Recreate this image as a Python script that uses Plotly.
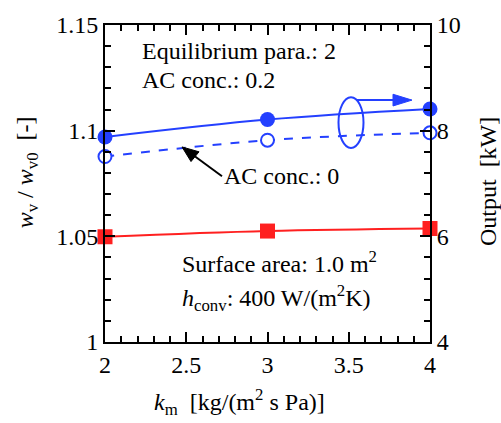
import plotly.graph_objects as go

# ---------------- data ----------------
k_m = [2, 3, 4]
wv_ratio = [1.0498, 1.0525, 1.0537]          # left axis, red squares
output_ac02 = [7.88, 8.21, 8.41]             # right axis, AC conc. 0.2 (filled)
output_ac0 = [7.51, 7.82, 7.96]              # right axis, AC conc. 0 (open, dashed)

x_tickvals = [2, 2.5, 3, 3.5, 4]
y_tickvals = [1, 1.05, 1.1, 1.15]
y2_tickvals = [4, 6, 8, 10]

# ---------------- layout helpers ----------------
W, H = 501, 423
L, R, T, B = 105, 71, 17, 81
PW = W - L - R
PH = H - T - B


def px(x):
    return (x - L) / PW


def py(y):
    return (H - B - y) / PH


FONT = "Liberation Serif"
BLUE = "#2440ff"
RED = "#ff2020"

fig = go.Figure()

fig.add_trace(go.Scatter(
    x=k_m, y=wv_ratio, mode="lines+markers", yaxis="y",
    line=dict(color=RED, width=2, shape="spline"),
    marker=dict(symbol="square", size=15, color=RED),
    cliponaxis=False))

fig.add_trace(go.Scatter(
    x=k_m, y=output_ac0, mode="lines+markers", yaxis="y2",
    line=dict(color=BLUE, width=2, dash="dash", shape="spline"),
    marker=dict(symbol="circle", size=13, color="white",
                line=dict(color=BLUE, width=2)),
    cliponaxis=False))

fig.add_trace(go.Scatter(
    x=k_m, y=output_ac02, mode="lines+markers", yaxis="y2",
    line=dict(color=BLUE, width=2, shape="spline"),
    marker=dict(symbol="circle", size=15, color=BLUE),
    cliponaxis=False))


def lin(vals):
    return dict(tickmode="linear", tick0=vals[0], dtick=vals[1] - vals[0],
                range=[vals[0], vals[-1]])


fig.update_layout(
    template="simple_white",
    width=W, height=H, autosize=False,
    margin=dict(l=L, r=R, t=T, b=B),
    showlegend=False,
    font=dict(family="serif", size=24, color="black"),
    xaxis=dict(
        **lin(x_tickvals),
        ticks="inside", ticklen=10, tickwidth=2, tickcolor="black",
        showline=True, linewidth=2, linecolor="black", mirror="ticks",
        tickfont=dict(size=24),
        minor=dict(dtick=0.1, ticks="inside", ticklen=6),
    ),
    yaxis=dict(
        **lin(y_tickvals),
        ticks="inside", ticklen=10, tickwidth=2, tickcolor="black",
        showline=True, linewidth=2, linecolor="black",
        tickfont=dict(size=24),
        minor=dict(dtick=0.01, ticks="inside", ticklen=6),
    ),
    yaxis2=dict(
        **lin(y2_tickvals),
        overlaying="y", side="right",
        ticks="inside", ticklen=10, tickwidth=2, tickcolor="black",
        showline=True, linewidth=2, linecolor="black",
        tickfont=dict(size=24),
        minor=dict(dtick=0.4, ticks="inside", ticklen=6),
    ),
)

ann_font = dict(family=FONT, size=24, color="black")


def text_ann(text, x, y, xanchor="left", angle=0):
    fig.add_annotation(text=text, xref="paper", yref="paper", x=px(x), y=py(y),
                       xanchor=xanchor, yanchor="middle", showarrow=False,
                       font=ann_font, textangle=angle)


text_ann("Equilibrium para.: 2", 140, 44)
text_ann("AC conc.: 0.2", 140, 73)
text_ann("AC conc.: 0", 222, 172)
text_ann("Surface area: 1.0 m<sup>2</sup>", 180, 260)
text_ann("<i>h</i><sub>conv</sub>: 400 W/(m<sup>2</sup>K)", 180, 297)

# axis titles
text_ann("<i>k</i><sub>m</sub>&nbsp; [kg/(m<sup>2</sup> s Pa)]", 152, 404)
text_ann("<i>w</i><sub>v</sub> / <i>w</i><sub>v0</sub>&nbsp; [-]", 27, 168,
         xanchor="center", angle=-90)
text_ann("Output&nbsp; [kW]", 488, 178, xanchor="center", angle=-90)

# black arrow to dashed curve (line + head)
fig.add_shape(type="line", xref="paper", yref="paper", opacity=1,
              x0=px(222), y0=py(172), x1=px(190), y1=py(148),
              line=dict(color="black", width=2))
fig.add_shape(type="path", xref="paper", yref="paper", opacity=1,
              path=(f"M {px(182)} {py(142)} L {px(199)} {py(147)} "
                    f"L {px(191)} {py(157)} Z"),
              line=dict(color="black", width=1), fillcolor="black")

# ellipse + arrow pointing to right axis
fig.add_shape(type="circle", xref="paper", yref="paper", opacity=1,
              x0=px(338.5), x1=px(363.5), y0=py(143), y1=py(91),
              line=dict(color=BLUE, width=2), fillcolor="rgba(0,0,0,0)")
fig.add_shape(type="line", xref="paper", yref="paper", opacity=1,
              x0=px(356), x1=px(396), y0=py(94), y1=py(94),
              line=dict(color=BLUE, width=2))
fig.add_shape(type="path", xref="paper", yref="paper", opacity=1,
              path=f"M {px(393)} {py(88)} L {px(412)} {py(94)} L {px(393)} {py(100)} Z",
              line=dict(color=BLUE, width=1), fillcolor=BLUE)

fig.write_html("out.html", config={"displayModeBar": False})

with open("out.html", "r", encoding="utf-8") as f:
    html = f.read()
html = html.replace("<body>", '<body style="margin:0;padding:0;">', 1)
with open("out.html", "w", encoding="utf-8") as f:
    f.write(html)
